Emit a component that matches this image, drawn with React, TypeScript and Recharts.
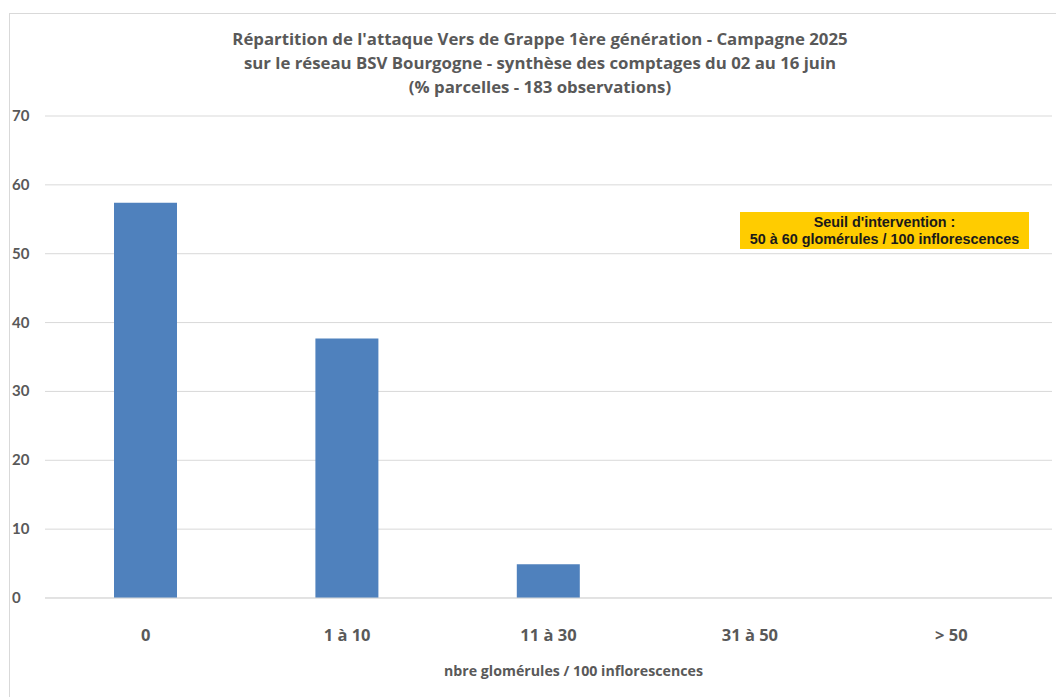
import React from 'react';
import { BarChart, Bar, XAxis, YAxis, CartesianGrid } from 'recharts';

const categories = ['0', '1 à 10', '11 à 30', '31 à 50', '> 50'];
const parcelles = [57.4, 37.7, 4.9, 0, 0];
const yTicks = [0, 10, 20, 30, 40, 50, 60, 70];

const titleLines = [
  "Répartition de l'attaque Vers de Grappe 1ère génération - Campagne 2025",
  'sur le réseau BSV Bourgogne - synthèse des comptages du 02 au 16 juin',
  '(% parcelles - 183 observations)',
];

const data = categories.map((c, i) => ({ classe: c, pct: parcelles[i] }));

const GREY = '#595959';
const FONT = '"Open Sans", Lato, sans-serif';

const YTick = (props: any) => {
  const { y, payload } = props;
  return (
    <text x={12} y={y} dy={5} textAnchor="start" fill={GREY} fontSize={15} fontWeight={700} fontFamily="Lato, sans-serif">
      {payload.value}
    </text>
  );
};

const XTick = (props: any) => {
  const { x, y, payload } = props;
  return (
    <text x={x} y={y} dy={35} textAnchor="middle" fill={GREY} fontSize={16.5} fontWeight={700} fontFamily={FONT}>
      {payload.value}
    </text>
  );
};

export default function App() {
  return (
    <div style={{ position: 'absolute', left: 0, top: 0, width: 1056, height: 697, background: '#fff', overflow: 'hidden' }}>
      <div style={{ position: 'absolute', left: 9, top: 13, width: 1100, height: 720, borderLeft: '1px solid #d9d9d9', borderTop: '1px solid #d9d9d9' }} />
      <div style={{ position: 'absolute', left: 0, top: 27, width: 1080, textAlign: 'center', fontFamily: FONT, fontWeight: 700, fontSize: 16.8, lineHeight: '24px', color: GREY }}>
        {titleLines.map((t) => (
          <div key={t}>{t}</div>
        ))}
      </div>
      <div style={{ position: 'absolute', left: 0, top: 0 }}>
        <BarChart width={1056} height={697} data={data} margin={{ top: 116, right: 4, left: 0, bottom: 0 }}>
          <CartesianGrid vertical={false} stroke="#d9d9d9" strokeWidth={1} />
          <XAxis
            dataKey="classe"
            height={99}
            axisLine={{ stroke: '#d9d9d9' }}
            tickLine={false}
            tick={<XTick />}
            interval={0}
            label={{ value: 'nbre glomérules / 100 inflorescences', position: 'insideBottom', offset: 21, fill: GREY, fontSize: 14.2, fontWeight: 700, fontFamily: FONT, dx: 25 }}
          />
          <YAxis
            width={45}
            domain={[0, 70]}
            ticks={yTicks}
            axisLine={false}
            tickLine={false}
            tick={<YTick />}
          />
          <Bar dataKey="pct" fill="#4f81bd" barSize={63} isAnimationActive={false} />
        </BarChart>
      </div>
      <div style={{ position: 'absolute', left: 740, top: 212, width: 289, height: 37, background: '#ffcc00', fontFamily: '"Liberation Sans", Arial, sans-serif', fontWeight: 700, fontSize: 14.4, lineHeight: '17px', color: '#1a1a1a', textAlign: 'center', paddingTop: 2, boxSizing: 'border-box' }}>
        <div>Seuil d'intervention :</div>
        <div>50 à 60 glomérules / 100 inflorescences</div>
      </div>
    </div>
  );
}
